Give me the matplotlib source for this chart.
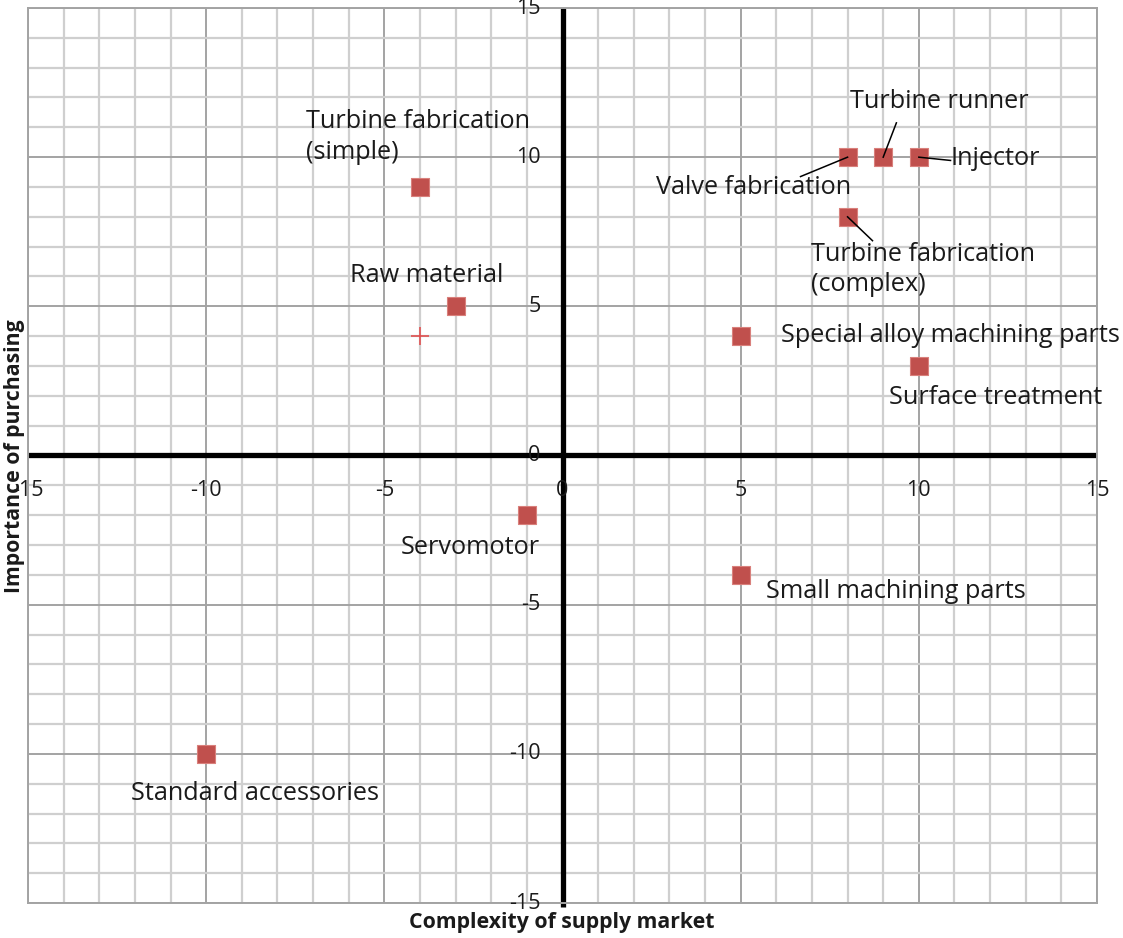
import matplotlib

matplotlib.use("Agg")
import matplotlib.pyplot as plt
import numpy as np

# purchasing portfolio: x = complexity of supply market, y = importance of purchasing
ITEMS = [
    "Turbine fabrication\n(simple)",
    "Raw material",
    "Valve fabrication",
    "Turbine runner",
    "Injector",
    "Turbine fabrication\n(complex)",
    "Special alloy machining parts",
    "Surface treatment",
    "Servomotor",
    "Small machining parts",
    "Standard accessories",
]
COMPLEXITY = [-4, -3, 8, 9, 10, 8, 5, 10, -1, 5, -10]
IMPORTANCE = [9, 5, 10, 10, 10, 8, 4, 3, -2, -4, -10]

# stray marker left in the chart area
CROSS_X = [-4]
CROSS_Y = [4]

AXIS_TICKS = [-15, -10, -5, 0, 5, 10, 15]

# label anchors (left edge, vertical centre) in data units, and leader-line ends
LABEL_POS = [
    (-7.21, 10.68),
    (-5.95, 6.03),
    (2.61, 8.98),
    (8.08, 11.87),
    (10.89, 9.96),
    (6.96, 6.24),
    (6.12, 4.02),
    (9.15, 1.94),
    (-4.55, -3.08),
    (5.70, -4.56),
    (-12.12, -11.33),
]
LEADER_END = {
    2: (6.68, 9.35),
    3: (9.37, 11.15),
    4: (10.89, 9.89),
    5: (8.70, 7.20),
}

MARKER_COLOR = "#C0504D"
MINOR_GRID = "#CFCFCF"
MAJOR_GRID = "#A3A3A3"
TEXT_COLOR = "#1A1A1A"
FONT = ["Open Sans", "DejaVu Sans"]

plt.rcParams["font.family"] = FONT

fig = plt.figure(figsize=(11.23, 9.38), dpi=100)
ax = fig.add_axes([28 / 1123, 1 - 903 / 938, 1069 / 1123, 895 / 938])
ax.set_xlim(-15, 15)
ax.set_ylim(-15, 15)

ax.set_xticks(AXIS_TICKS)
ax.set_yticks(AXIS_TICKS)
ax.set_xticks(np.arange(-15, 16, 1), minor=True)
ax.set_yticks(np.arange(-15, 16, 1), minor=True)
ax.grid(which="minor", color=MINOR_GRID, linewidth=1.6)
ax.grid(which="major", color=MAJOR_GRID, linewidth=1.4)
ax.set_axisbelow(True)
ax.tick_params(which="both", length=0, labelbottom=False, labelleft=False)
for spine in ax.spines.values():
    spine.set_color(MAJOR_GRID)
    spine.set_linewidth(1.4)

# quadrant axes through the origin
ax.axhline(0, color="black", linewidth=3.8, zorder=2)
ax.plot([0, 0], [-15.15, 15], color="black", linewidth=3.8, zorder=2,
        clip_on=False, solid_capstyle="butt")

# leader lines sit on top of the markers
for idx, (x_end, y_end) in LEADER_END.items():
    ax.plot([COMPLEXITY[idx], x_end], [IMPORTANCE[idx], y_end],
            color="black", linewidth=1.1, zorder=4)

ax.scatter(COMPLEXITY, IMPORTANCE, marker="s", s=165, color=MARKER_COLOR,
           edgecolors="#D9807C", linewidths=0.8, zorder=3)
ax.scatter(CROSS_X, CROSS_Y, marker="+", s=170, color="#E05050",
           linewidths=1.2, zorder=3)

for name, (lx, ly) in zip(ITEMS, LABEL_POS):
    ax.text(lx, ly, name, ha="left", va="center", fontsize=18.2,
            color=TEXT_COLOR, linespacing=1.28, zorder=5)

# tick labels drawn next to the quadrant axes
for value in AXIS_TICKS:
    ax.text(-0.62, value, f"{value}", ha="right", va="center", fontsize=15.5,
            color=TEXT_COLOR, clip_on=False, zorder=5)
    ax.text(value, -1.17, f"{value}", ha="center", va="center", fontsize=15.5,
            color=TEXT_COLOR, clip_on=False, zorder=5)

fig.text(562 / 1123, 1 - 922 / 938, "Complexity of supply market", ha="center",
         va="center", fontsize=15.3, fontweight="bold", color=TEXT_COLOR)
fig.text(15 / 1123, 1 - 456 / 938, "Importance of purchasing", ha="center",
         va="center", rotation=90, fontsize=15.3, fontweight="bold",
         color=TEXT_COLOR)

fig.savefig("out.png", dpi=100, facecolor="white")
